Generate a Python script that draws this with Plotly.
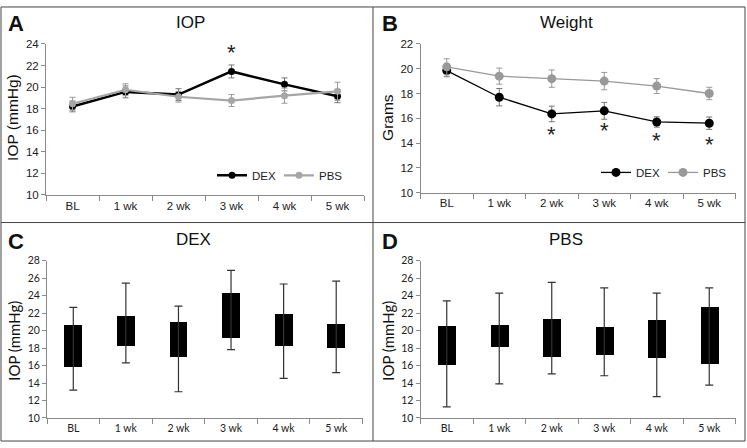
import plotly.graph_objects as go

# ---------------- data ----------------
weeks = ["BL", "1 wk", "2 wk", "3 wk", "4 wk", "5 wk"]

# Panel A: IOP (mean +/- SEM)
iop_dex_mean = [18.2, 19.55, 19.3, 21.45, 20.25, 19.15]
iop_dex_err = [0.5, 0.55, 0.55, 0.6, 0.6, 0.6]
iop_pbs_mean = [18.45, 19.75, 19.1, 18.75, 19.2, 19.6]
iop_pbs_err = [0.6, 0.55, 0.5, 0.55, 0.7, 0.85]
iop_sig_weeks = ["3 wk"]
iop_sig_y = [23.2]

# Panel B: weight (grams)
wt_dex_mean = [19.85, 17.7, 16.35, 16.6, 15.7, 15.6]
wt_dex_err = [0.5, 0.7, 0.63, 0.68, 0.42, 0.5]
wt_pbs_mean = [20.15, 19.4, 19.2, 19.0, 18.6, 18.0]
wt_pbs_err = [0.65, 0.65, 0.7, 0.7, 0.6, 0.5]
wt_sig_weeks = ["2 wk", "3 wk", "4 wk", "5 wk"]
wt_sig_y = [14.66, 15.03, 14.22, 13.85]

# Panel C: DEX IOP distribution
dex_box_lo = [15.86, 18.24, 17.05, 19.2, 18.24, 18.05]
dex_box_hi = [20.65, 21.69, 21.02, 24.29, 21.99, 20.76]
dex_wh_lo = [13.19, 16.31, 13.0, 17.83, 14.53, 15.2]
dex_wh_hi = [22.66, 25.44, 22.8, 26.89, 25.33, 25.66]

# Panel D: PBS IOP distribution
pbs_box_lo = [16.05, 18.13, 17.02, 17.28, 16.87, 16.24]
pbs_box_hi = [20.54, 20.73, 21.36, 20.47, 21.25, 22.77]
pbs_wh_lo = [11.26, 13.9, 15.05, 14.83, 12.45, 13.75]
pbs_wh_hi = [23.4, 24.29, 25.52, 24.88, 24.29, 24.88]

# ---------------- layout helpers ----------------
W, H = 747, 448


def px(x):
    return x / W


def py(y):
    return 1 - y / H


ARIAL = "Liberation Sans, Arial, sans-serif"
CAL = "Lato, Carlito, sans-serif"
AXC = "#8a8a8a"

fig = go.Figure()

# Panel A
fig.add_trace(go.Scatter(
    x=weeks, y=iop_dex_mean, name="DEX", mode="lines+markers",
    line=dict(color="black", width=2.5), marker=dict(color="black", size=7),
    error_y=dict(type="data", array=iop_dex_err, color="#777", thickness=1, width=3),
    xaxis="x", yaxis="y", legend="legend"))
fig.add_trace(go.Scatter(
    x=weeks, y=iop_pbs_mean, name="PBS", mode="lines+markers",
    line=dict(color="#a6a6a6", width=2.2), marker=dict(color="#a6a6a6", size=7),
    error_y=dict(type="data", array=iop_pbs_err, color="#9a9a9a", thickness=1, width=3),
    xaxis="x", yaxis="y", legend="legend"))

# Panel B
fig.add_trace(go.Scatter(
    x=weeks, y=wt_dex_mean, name="DEX", mode="lines+markers",
    line=dict(color="black", width=1.3), marker=dict(color="black", size=9),
    error_y=dict(type="data", array=wt_dex_err, color="#777", thickness=1, width=3),
    xaxis="x2", yaxis="y2", legend="legend2"))
fig.add_trace(go.Scatter(
    x=weeks, y=wt_pbs_mean, name="PBS", mode="lines+markers",
    line=dict(color="#999999", width=1.3), marker=dict(color="#999999", size=9),
    error_y=dict(type="data", array=wt_pbs_err, color="#999999", thickness=1, width=3),
    xaxis="x2", yaxis="y2", legend="legend2"))


def box_panel(lo, hi, wlo, whi, xa, ya):
    fig.add_trace(go.Scatter(
        x=weeks, y=hi, mode="markers", showlegend=False,
        marker=dict(color="rgba(0,0,0,0)", size=1),
        error_y=dict(type="data", symmetric=False,
                     array=[b - a for a, b in zip(hi, whi)],
                     arrayminus=[a - b for a, b in zip(hi, wlo)],
                     color="#333", thickness=1.2, width=4),
        xaxis=xa, yaxis=ya, hoverinfo="skip"))
    fig.add_trace(go.Bar(
        x=weeks, y=[b - a for a, b in zip(lo, hi)], base=lo, width=0.34,
        marker=dict(color="black", line=dict(width=0)), showlegend=False,
        xaxis=xa, yaxis=ya))


box_panel(dex_box_lo, dex_box_hi, dex_wh_lo, dex_wh_hi, "x3", "y3")
box_panel(pbs_box_lo, pbs_box_hi, pbs_wh_lo, pbs_wh_hi, "x4", "y4")


def xaxis(dom, font):
    return dict(domain=dom, type="category", categoryorder="array", categoryarray=weeks,
                range=[-0.5, 5.5], showline=True, linecolor=AXC, linewidth=1,
                ticks="outside", tickson="boundaries", ticklen=5, tickcolor=AXC,
                showgrid=False, zeroline=False, tickfont=font, fixedrange=True)


def yaxis(dom, rng, anchor, font):
    return dict(domain=dom, range=rng, dtick=2, showline=True, linecolor=AXC, linewidth=1,
                ticks="outside", ticklen=4, tickcolor=AXC, showgrid=False,
                zeroline=False, tickfont=font, anchor=anchor, fixedrange=True)


fA = dict(family=ARIAL, size=11.5, color="#222")
fC = dict(family=CAL, size=10.5, color="#222")

xA = [px(46), px(364)]
xB = [px(420.5), px(735.5)]
xC = [px(47), px(362.5)]
yA = [py(194), py(39)]
yB = [py(191.7), py(39)]
yC = [py(423.3), py(261.7)]

legfont = dict(family=ARIAL, size=11.5, color="#222")
layout = dict(
    width=W, height=H, margin=dict(l=0, r=0, t=0, b=0),
    paper_bgcolor="white", plot_bgcolor="white", bargap=0,
    xaxis=dict(xaxis(xA, fA), anchor="y"),
    yaxis=yaxis(yA, [10, 24], "x", fA),
    xaxis2=dict(xaxis(xB, fA), anchor="y2"),
    yaxis2=yaxis(yB, [10, 22], "x2", fA),
    xaxis3=dict(xaxis(xC, fC), anchor="y3"),
    yaxis3=yaxis(yC, [10, 28], "x3", fC),
    xaxis4=dict(xaxis(xB, fC), anchor="y4"),
    yaxis4=yaxis(yC, [10, 28], "x4", fC),
    legend=dict(orientation="h", x=px(346), y=py(174), xanchor="right", yanchor="middle",
                font=legfont, bgcolor="rgba(0,0,0,0)", itemwidth=30, tracegroupgap=0,
                entrywidth=22, entrywidthmode="pixels"),
    legend2=dict(orientation="h", x=px(730), y=py(171), xanchor="right", yanchor="middle",
                 font=legfont, bgcolor="rgba(0,0,0,0)", itemwidth=30, tracegroupgap=0,
                 entrywidth=22, entrywidthmode="pixels"),
    showlegend=True,
)
fig.update_layout(**layout)

ann = []


def pann(txt, x, y, font, angle=0):
    ann.append(dict(text=txt, x=px(x), y=py(y), xref="paper", yref="paper",
                    xanchor="center", yanchor="middle", textangle=angle,
                    showarrow=False, font=font))


# panel titles
for txt, x, y in [("IOP", 190, 17), ("Weight", 566, 17), ("DEX", 193, 240), ("PBS", 566, 240)]:
    pann(txt, x, y, dict(family=ARIAL, size=17, color="#111"))
# panel letters
for txt, x, y in [("A", 16, 18), ("B", 390, 18), ("C", 16, 241.5), ("D", 390, 241.5)]:
    pann("<b>%s</b>" % txt, x, y, dict(family=ARIAL, size=22, color="#111"))
# y-axis titles
for txt, x, y, fam, sz in [("IOP (mmHg)", 13, 115, ARIAL, 15.5), ("Grams", 388, 115, ARIAL, 15.5),
                           ("IOP (mmHg)", 14, 344, CAL, 15), ("IOP (mmHg)", 388, 344, CAL, 15)]:
    pann(txt, x, y, dict(family=fam, size=sz, color="#111"), angle=-90)
# significance stars
for wk, yv in zip(iop_sig_weeks, iop_sig_y):
    ann.append(dict(text="*", x=wk, y=yv, xref="x", yref="y", showarrow=False,
                    xanchor="center", yanchor="middle",
                    font=dict(family=ARIAL, size=22, color="#222")))
for wk, yv in zip(wt_sig_weeks, wt_sig_y):
    ann.append(dict(text="*", x=wk, y=yv, xref="x2", yref="y2", showarrow=False,
                    xanchor="center", yanchor="middle",
                    font=dict(family=ARIAL, size=22, color="#222")))
fig.update_layout(annotations=ann)

# panel frames
LC = "#444"
shapes = [
    dict(type="rect", xref="paper", yref="paper", x0=px(1), x1=px(745), y0=py(447), y1=py(1),
         line=dict(color=LC, width=1)),
    dict(type="line", xref="paper", yref="paper", x0=px(373), x1=px(373), y0=py(447), y1=py(1),
         line=dict(color=LC, width=1)),
    dict(type="line", xref="paper", yref="paper", x0=px(1), x1=px(745), y0=py(222.5), y1=py(222.5),
         line=dict(color=LC, width=1)),
]
fig.update_layout(shapes=shapes)

fig.write_html(
    "out.html",
    config={"displayModeBar": False},
    post_script="document.documentElement.style.margin='0';document.documentElement.style.padding='0';"
                "document.body.style.margin='0';document.body.style.padding='0';document.body.style.overflow='hidden';",
)
